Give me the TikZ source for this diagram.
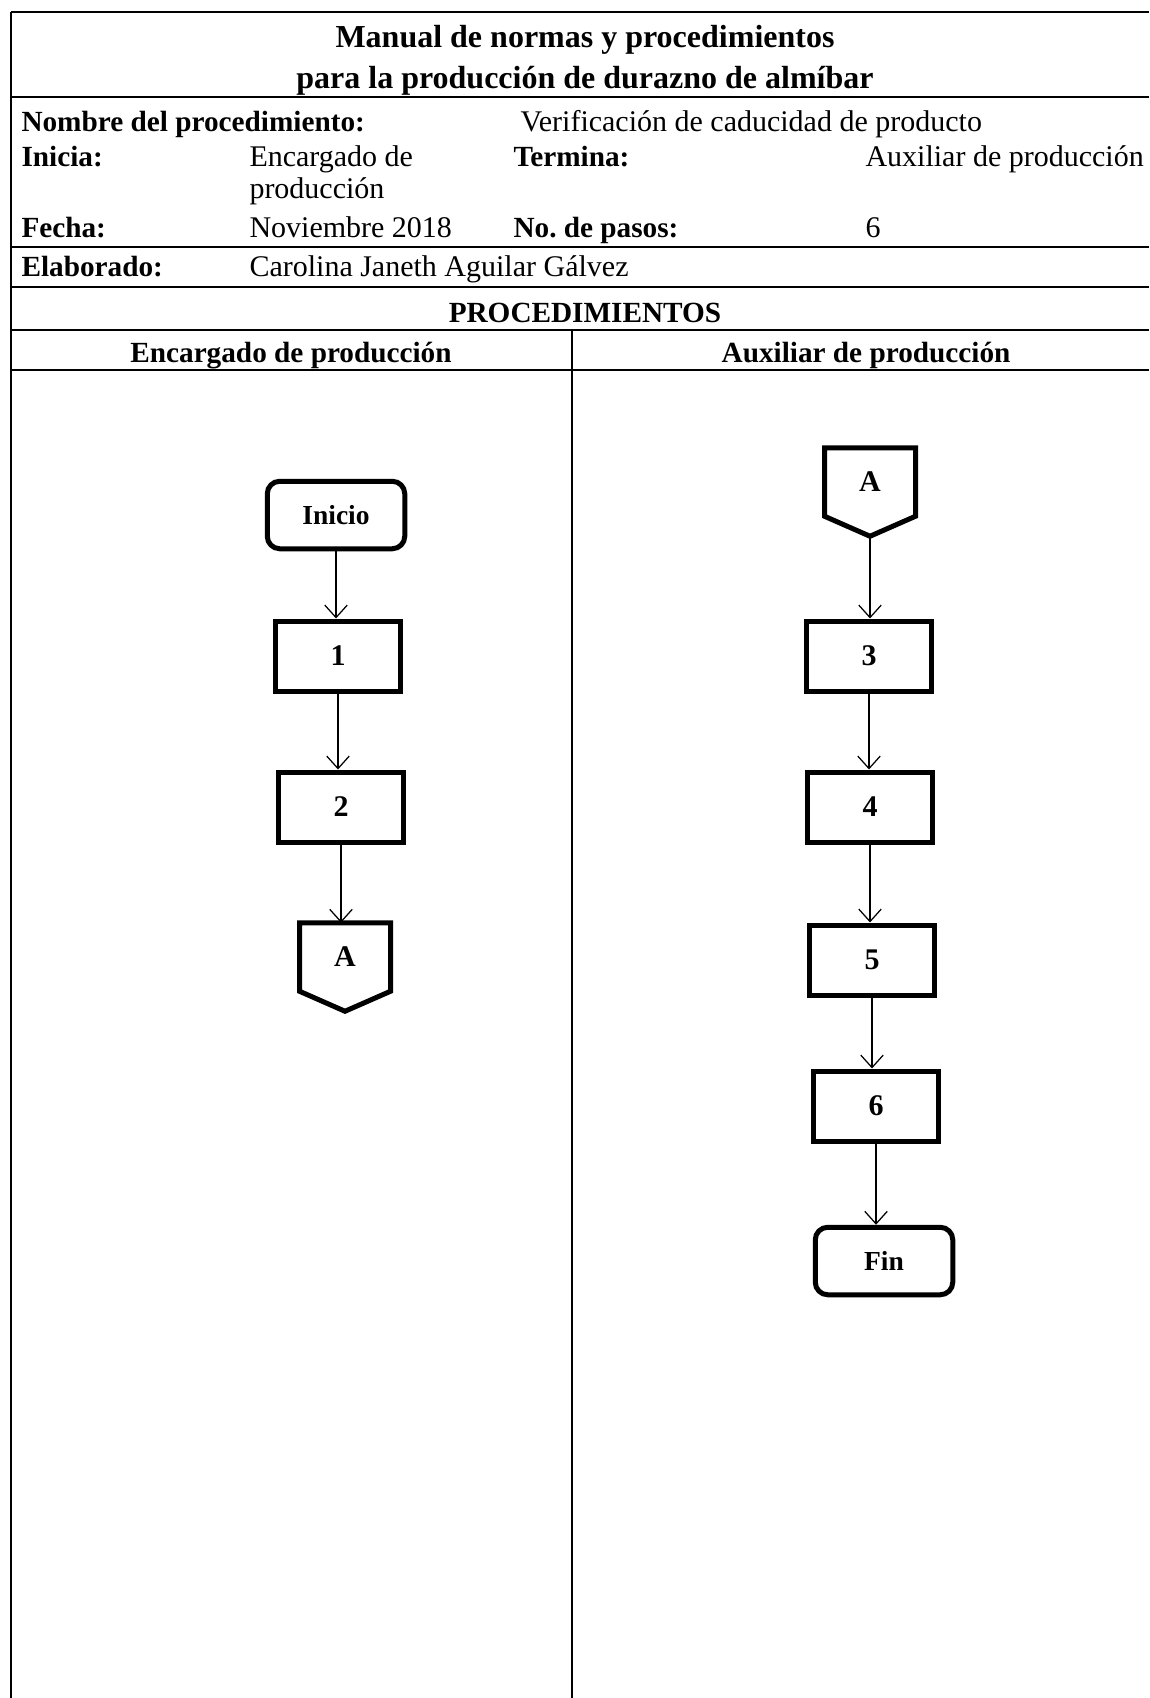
\documentclass[tikz,border=0pt]{standalone}
\usepackage{fontspec}
\setmainfont{Liberation Serif}
\usetikzlibrary{arrows.meta}
\frenchspacing

\begin{document}
\begin{tikzpicture}[x=0.4pt, y=-0.4pt, >={Straight Barb[length=5pt, width=9pt]},
  font=\fontsize{12}{14}\selectfont,
  rule/.style={line width=0.8pt},
  lbl/.style={anchor=base west, inner sep=0pt},
  key/.style={lbl, font=\fontsize{11.7}{14}\selectfont\bfseries},
  head/.style={anchor=base, inner sep=0pt, font=\fontsize{11.7}{14}\selectfont\bfseries},
  stepbox/.style={draw, line width=2pt, minimum width=50pt, minimum height=28pt,
    font=\fontsize{12}{14}\selectfont\bfseries},
  term/.style={stepbox, rounded corners=5pt, minimum width=55pt, minimum height=27pt,
    font=\fontsize{11}{14}\selectfont\bfseries},
  offpage/.style={minimum width=36pt, minimum height=27pt, font=\fontsize{12}{14}\selectfont\bfseries},
  flow/.style={->, line width=0.5pt}]

\useasboundingbox (0,0) rectangle (1149,1698);

% ---- table frame -----------------------------------------------------------------
\draw[rule] (11,12) -- (1149,12);
\draw[rule] (11,97) -- (1149,97);
\draw[rule] (11,247) -- (1149,247);
\draw[rule] (11,287) -- (1149,287);
\draw[rule] (11,330) -- (1149,330);
\draw[rule] (11,370) -- (1149,370);
\draw[rule] (11,12) -- (11,1698);
\draw[rule] (572,330) -- (572,1698);

% ---- heading ---------------------------------------------------------------------
\node[head, font=\fontsize{12.8}{15}\selectfont\bfseries] (ttl1) at (585,48)
  {Manual de normas y procedimientos};
\node[head, font=\fontsize{12.8}{15}\selectfont\bfseries] (ttl2) at (585,89)
  {para la producción de durazno de almíbar};

% ---- data of the procedure -------------------------------------------------------
\node[key] (kname) at (21,132) {Nombre del procedimiento:};
\node[lbl] (vname) at (520,132) {Verificación de caducidad de producto};
\node[key] (kini) at (21,167) {Inicia:};
\node[lbl] (vini) at (249,167) {Encargado de};
\node[lbl] (vini2) at (249,199) {producción};
\node[key] (kend) at (513,167) {Termina:};
\node[lbl] (vend) at (865,167) {Auxiliar de producción};
\node[key] (kdate) at (21,238) {Fecha:};
\node[lbl] (vdate) at (249,238) {Noviembre 2018};
\node[key] (ksteps) at (513,238) {No. de pasos:};
\node[lbl] (vsteps) at (865,238) {6};
\node[key] (kby) at (21,277) {Elaborado:};
\node[lbl] (vby) at (249,277) {Carolina Janeth Aguilar Gálvez};

\node[head] (proc) at (585,322) {PROCEDIMIENTOS};
\node[head] (colL) at (291,362) {Encargado de producción};
\node[head] (colR) at (866,362) {Auxiliar de producción};

% ---- Encargado de producción -----------------------------------------------------
\node[term] (inicio) at (336,515) {Inicio};
\node[stepbox] (p1) at (338,656) {1};
\node[stepbox] (p2) at (341,807) {2};
\node[offpage] (a1) at (345,957) {A};
\draw[line width=2pt] (a1.north west) -- (a1.north east) -- (a1.south east)
  -- ([yshift=-8pt]a1.south) -- (a1.south west) -- cycle;

\draw[flow] (inicio) -- (inicio |- p1.north);
\draw[flow] (p1) -- (p1 |- p2.north);
\draw[flow] (p2) -- (p2 |- a1.north);

% ---- Auxiliar de producción ------------------------------------------------------
\node[offpage] (a2) at (870,482) {A};
\draw[line width=2pt] (a2.north west) -- (a2.north east) -- (a2.south east)
  -- ([yshift=-8pt]a2.south) -- (a2.south west) -- cycle;
\coordinate (a2tip) at ([yshift=-8pt]a2.south);
\node[stepbox] (p3) at (869,656) {3};
\node[stepbox] (p4) at (870,807) {4};
\node[stepbox] (p5) at (872,960) {5};
\node[stepbox] (p6) at (876,1106) {6};
\node[term] (fin) at (884,1261) {Fin};

\draw[flow] (a2tip) -- (a2tip |- p3.north);
\draw[flow] (p3) -- (p3 |- p4.north);
\draw[flow] (p4) -- (p4 |- p5.north);
\draw[flow] (p5) -- (p5 |- p6.north);
\draw[flow] (p6) -- (p6 |- fin.north);

\end{tikzpicture}
\end{document}
